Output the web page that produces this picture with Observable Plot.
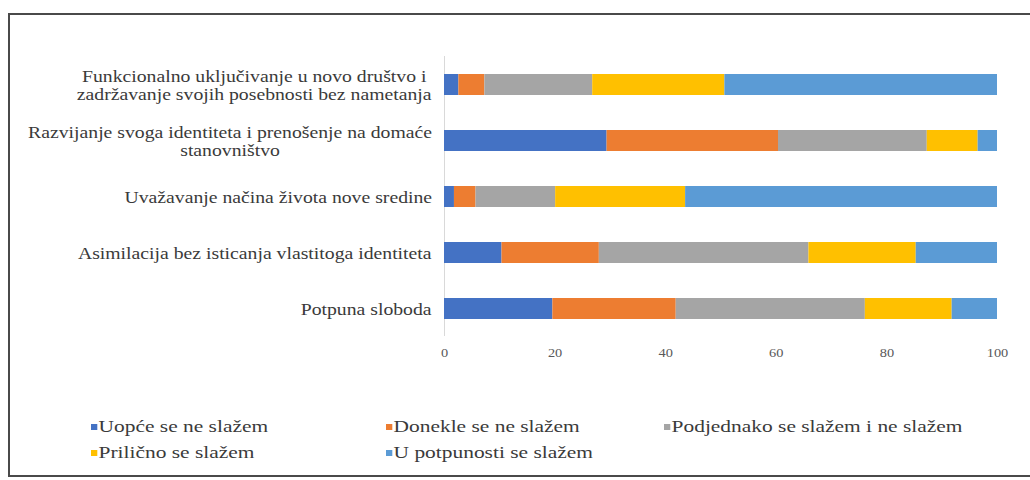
<!DOCTYPE html>
<html>
<head>
<meta charset="utf-8">
<script src="https://cdn.jsdelivr.net/npm/d3@7"></script>
<script src="https://cdn.jsdelivr.net/npm/@observablehq/plot@0.6"></script>
<style>
  html, body { margin: 0; padding: 0; background: #fff; width: 1030px; height: 480px; overflow: hidden; }
  #frame { position: absolute; left: 8px; top: 13px; width: 1040px; height: 464px; border: 2px solid #4a4a4a; box-sizing: border-box; }
  #chart { position: absolute; left: 0; top: 0; }
  .legend { position: absolute; left: 0; top: 0; font-family: "Liberation Serif", "Times New Roman", serif; font-size: 17px; color: #3a3a3a; }
  .item { position: absolute; display: flex; align-items: center; white-space: nowrap; transform: scaleX(1.26); transform-origin: left center; height: 20px; }
  .sw { width: 5px; height: 6px; margin-right: 1px; }
</style>
</head>
<body>
<div id="frame"></div>
<div id="chart"></div>
<div class="legend" id="legend"></div>
<script>
const categories = [
  "Funkcionalno uključivanje u novo društvo i\nzadržavanje svojih posebnosti bez nametanja",
  "Razvijanje svoga identiteta i prenošenje na domaće\nstanovništvo",
  "Uvažavanje načina života nove sredine",
  "Asimilacija bez isticanja vlastitoga identiteta",
  "Potpuna sloboda"
];
const seriesNames = [
  "Uopće se ne slažem",
  "Donekle se ne slažem",
  "Podjednako se slažem i ne slažem",
  "Prilično se slažem",
  "U potpunosti se slažem"
];
const colors = ["#4472C4", "#ED7D31", "#A5A5A5", "#FFC000", "#5B9BD5"];
// segment values per category, in series order
const funkcionalno = [2.6, 4.7, 19.5, 23.9, 49.3];
const razvijanje   = [29.4, 31.0, 26.9, 9.2, 3.5];
const uvazavanje   = [1.8, 3.9, 14.4, 23.5, 56.4];
const asimilacija  = [10.4, 17.6, 37.9, 19.4, 14.7];
const potpuna      = [19.6, 22.3, 34.2, 15.7, 8.2];
const xTicks = [0, 20, 40, 60, 80, 100];

const valueRows = [funkcionalno, razvijanje, uvazavanje, asimilacija, potpuna];
const data = [];
categories.forEach((c, i) => {
  seriesNames.forEach((s, j) => data.push({category: c, series: s, value: valueRows[i][j]}));
});

const serif = "'Liberation Serif', 'Times New Roman', serif";
const plot = Plot.plot({
  width: 1030,
  height: 380,
  marginLeft: 444,
  marginRight: 33,
  marginTop: 56,
  marginBottom: 44,
  style: {fontFamily: serif, background: "transparent", overflow: "visible"},
  x: {domain: [0, 100], axis: null},
  y: {domain: categories, paddingInner: 0.625, paddingOuter: 0.3125, axis: null},
  color: {domain: seriesNames, range: colors},
  marks: [
    Plot.ruleX([0], {stroke: "#d9d9d9", strokeWidth: 1}),
    Plot.barX(data, Plot.stackX({x: "value", y: "category", fill: "series", order: null})),
    Plot.axisX({ticks: xTicks, tickSize: 0, tickPadding: 12, fontSize: 12, fill: "#595959", label: null, fontFamily: serif}),
    Plot.text(categories, {y: d => d, text: d => d, frameAnchor: "left", textAnchor: "middle", dx: -20,
      fontSize: 17, fill: "#3a3a3a", lineHeight: 1.1, fontFamily: serif})
  ]
});
document.getElementById("chart").appendChild(plot);

// Excel-like category labels: lines centered within block, block right-aligned at x=429, glyphs widened
const rightEdge = 429, s = 1.16;
const svgRect = plot.getBoundingClientRect();
plot.querySelectorAll('g[aria-label="text"] text').forEach(t => {
  const r = t.getBoundingClientRect();
  const L = r.left - svgRect.left, R = r.right - svgRect.left, w = R - L, cx = (L + R) / 2;
  const newC = rightEdge - w * s / 2;
  const cur = t.getAttribute("transform") || "";
  t.setAttribute("transform", `translate(${newC},0) scale(${s},1) translate(${-cx},0) ${cur}`);
});
plot.querySelectorAll('g[aria-label="x-axis tick label"] text').forEach(t => {
  const cur = t.getAttribute("transform") || "";
  t.setAttribute("transform", `${cur} scale(1.2,1)`);
});

// legend
const legend = document.getElementById("legend");
const pos = [[91, 417], [386, 417], [664, 417], [91, 443], [386, 443]];
seriesNames.forEach((name, i) => {
  const it = document.createElement("div");
  it.className = "item";
  it.style.left = pos[i][0] + "px";
  it.style.top = pos[i][1] + "px";
  it.innerHTML = `<span class="sw" style="background:${colors[i]}"></span><span>${name}</span>`;
  legend.appendChild(it);
});
</script>
</body>
</html>
